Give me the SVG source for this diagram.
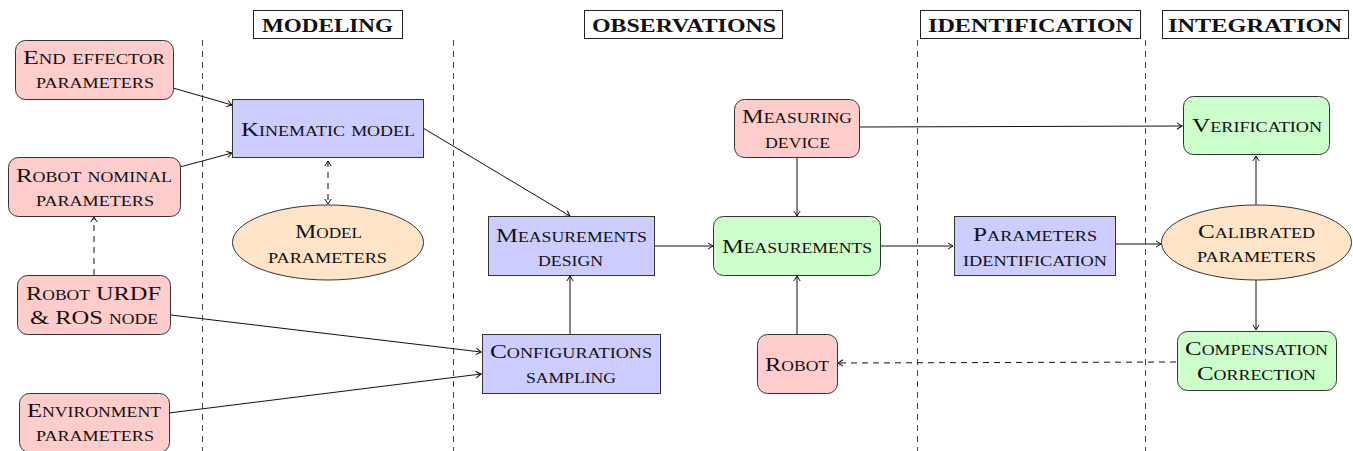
<svg xmlns="http://www.w3.org/2000/svg" width="1353" height="451" viewBox="0 0 1353 451">
<style>
.bg{fill:#ffffff}
.sep{stroke:#444;stroke-width:1;stroke-dasharray:6,5;fill:none}
.hdr rect{fill:#fff;stroke:#222;stroke-width:1}
.hdr text{font-family:"Liberation Serif",serif;font-weight:bold;font-size:19.5px;fill:#111;text-anchor:middle}
.pink{fill:#ffcccc;stroke:#333;stroke-width:1}
.blue{fill:#ccccff;stroke:#333;stroke-width:1}
.green{fill:#ccffcc;stroke:#333;stroke-width:1}
.orange{fill:#ffe4c8;stroke:#333;stroke-width:1}
.lbl{font-family:"Liberation Serif",serif;font-variant:small-caps;font-size:19.5px;fill:#111;text-anchor:middle}
.c{stroke:#111;stroke-width:1;fill:none;marker-end:url(#ah)}
.d{stroke:#111;stroke-width:1;fill:none;stroke-dasharray:6,5;marker-end:url(#ah)}
.dd{marker-start:url(#ahs)}
</style>
<defs>
<marker id="ah" viewBox="-6 -4 7 8" refX="0" refY="0" markerWidth="7" markerHeight="8" markerUnits="userSpaceOnUse" orient="auto">
<path d="M-5,-3.2 Q-1.5,-0.8 0,0 Q-1.5,0.8 -5,3.2" fill="none" stroke="#111" stroke-width="1"/>
</marker>
<marker id="ahs" viewBox="-6 -4 7 8" refX="0" refY="0" markerWidth="7" markerHeight="8" markerUnits="userSpaceOnUse" orient="auto-start-reverse">
<path d="M-5,-3.2 Q-1.5,-0.8 0,0 Q-1.5,0.8 -5,3.2" fill="none" stroke="#111" stroke-width="1"/>
</marker>
</defs>
<rect class="bg" x="0" y="0" width="1353" height="451"/>

<g id="separators">
<line class="sep" x1="202.5" y1="40" x2="202.5" y2="451"/>
<line class="sep" x1="453.5" y1="40" x2="453.5" y2="451"/>
<line class="sep" x1="917.5" y1="40" x2="917.5" y2="451"/>
<line class="sep" x1="1145.5" y1="40" x2="1145.5" y2="451"/>
</g>

<g id="headers" class="hdr">
<g id="h-modeling"><rect x="253.5" y="10.5" width="149" height="28"/><text x="327.5" y="32" textLength="131" lengthAdjust="spacingAndGlyphs">MODELING</text></g>
<g id="h-observations"><rect x="584.5" y="10.5" width="198" height="28"/><text x="684" y="32" textLength="184" lengthAdjust="spacingAndGlyphs">OBSERVATIONS</text></g>
<g id="h-identification"><rect x="920.5" y="10.5" width="220" height="28"/><text x="1030.5" y="32" textLength="205" lengthAdjust="spacingAndGlyphs">IDENTIFICATION</text></g>
<g id="h-integration"><rect x="1162.5" y="10.5" width="186" height="28"/><text x="1255" y="32" textLength="174" lengthAdjust="spacingAndGlyphs">INTEGRATION</text></g>
</g>

<g id="connectors">
<line class="c" x1="173" y1="88" x2="232" y2="105"/>
<line class="c" x1="180" y1="167" x2="232" y2="153"/>
<line class="d dd" x1="328" y1="161" x2="328" y2="204"/>
<line class="d" x1="94" y1="275" x2="94" y2="217"/>
<line class="c" x1="171" y1="315" x2="481" y2="352"/>
<line class="c" x1="169" y1="413" x2="481" y2="374"/>
<line class="c" x1="423" y1="128" x2="570" y2="216"/>
<line class="c" x1="570" y1="334" x2="570" y2="276"/>
<line class="c" x1="654" y1="246" x2="713" y2="246"/>
<line class="c" x1="797" y1="157" x2="797" y2="216"/>
<line class="c" x1="797" y1="334" x2="797" y2="276"/>
<line class="c" x1="859" y1="127" x2="1182" y2="126"/>
<line class="c" x1="880" y1="246" x2="953" y2="246"/>
<line class="c" x1="1116" y1="244" x2="1161" y2="244"/>
<line class="c" x1="1256" y1="205" x2="1256" y2="156"/>
<line class="c" x1="1256" y1="280" x2="1256" y2="330"/>
<line class="d" x1="1176" y1="362" x2="838" y2="363"/>
</g>

<g id="n-endeffector"><rect class="pink" x="15.5" y="40.5" width="158" height="59" rx="10"/>
<text class="lbl" x="94" y="64" textLength="142" lengthAdjust="spacingAndGlyphs">End effector</text>
<text class="lbl" x="95" y="88" textLength="118" lengthAdjust="spacingAndGlyphs">parameters</text></g>

<g id="n-robotnominal"><rect class="pink" x="8.5" y="157.5" width="172" height="59" rx="10"/>
<text class="lbl" x="94" y="182" textLength="156" lengthAdjust="spacingAndGlyphs">Robot nominal</text>
<text class="lbl" x="95" y="206" textLength="118" lengthAdjust="spacingAndGlyphs">parameters</text></g>

<g id="n-urdf"><rect class="pink" x="17.5" y="275.5" width="153" height="59" rx="10"/>
<text class="lbl" x="93.5" y="300" textLength="135" lengthAdjust="spacingAndGlyphs">Robot URDF</text>
<text class="lbl" x="94" y="324" textLength="128" lengthAdjust="spacingAndGlyphs">&amp; ROS node</text></g>

<g id="n-environment"><rect class="pink" x="19.5" y="393.5" width="150" height="59" rx="10"/>
<text class="lbl" x="94" y="417" textLength="134" lengthAdjust="spacingAndGlyphs">Environment</text>
<text class="lbl" x="95" y="441" textLength="118" lengthAdjust="spacingAndGlyphs">parameters</text></g>

<g id="n-kinematic"><rect class="blue" x="232.5" y="99.5" width="191" height="58"/>
<text class="lbl" x="328" y="136" textLength="174" lengthAdjust="spacingAndGlyphs">Kinematic model</text></g>

<g id="n-modelparams"><ellipse class="orange" cx="328" cy="242.5" rx="95.5" ry="37.5"/>
<text class="lbl" x="328.5" y="238" textLength="67" lengthAdjust="spacingAndGlyphs">Model</text>
<text class="lbl" x="327.5" y="263" textLength="119" lengthAdjust="spacingAndGlyphs">parameters</text></g>

<g id="n-measdesign"><rect class="blue" x="488.5" y="216.5" width="166" height="59"/>
<text class="lbl" x="571.5" y="242" textLength="151" lengthAdjust="spacingAndGlyphs">Measurements</text>
<text class="lbl" x="570.5" y="266" textLength="65" lengthAdjust="spacingAndGlyphs">design</text></g>

<g id="n-configs"><rect class="blue" x="482.5" y="334.5" width="178" height="59"/>
<text class="lbl" x="571" y="358" textLength="162" lengthAdjust="spacingAndGlyphs">Configurations</text>
<text class="lbl" x="571" y="383" textLength="90" lengthAdjust="spacingAndGlyphs">sampling</text></g>

<g id="n-measdevice"><rect class="pink" x="734.5" y="99.5" width="125" height="58" rx="10"/>
<text class="lbl" x="797" y="123" textLength="110" lengthAdjust="spacingAndGlyphs">Measuring</text>
<text class="lbl" x="797.5" y="148" textLength="65" lengthAdjust="spacingAndGlyphs">device</text></g>

<g id="n-measurements"><rect class="green" x="713.5" y="216.5" width="167" height="59" rx="10"/>
<text class="lbl" x="797" y="253" textLength="150" lengthAdjust="spacingAndGlyphs">Measurements</text></g>

<g id="n-robot"><rect class="pink" x="757.5" y="334.5" width="80" height="59" rx="10"/>
<text class="lbl" x="797" y="371" textLength="64" lengthAdjust="spacingAndGlyphs">Robot</text></g>

<g id="n-paramid"><rect class="blue" x="954.5" y="216.5" width="161" height="59"/>
<text class="lbl" x="1035" y="241" textLength="124" lengthAdjust="spacingAndGlyphs">Parameters</text>
<text class="lbl" x="1035" y="266" textLength="144" lengthAdjust="spacingAndGlyphs">identification</text></g>

<g id="n-verification"><rect class="green" x="1183.5" y="96.5" width="146" height="58" rx="10"/>
<text class="lbl" x="1257" y="132" textLength="130" lengthAdjust="spacingAndGlyphs">Verification</text></g>

<g id="n-calibrated"><ellipse class="orange" cx="1256.5" cy="242.5" rx="95" ry="37.5"/>
<text class="lbl" x="1256.5" y="238" textLength="117" lengthAdjust="spacingAndGlyphs">Calibrated</text>
<text class="lbl" x="1256.5" y="262" textLength="119" lengthAdjust="spacingAndGlyphs">parameters</text></g>

<g id="n-compensation"><rect class="green" x="1177.5" y="331.5" width="159" height="59" rx="10"/>
<text class="lbl" x="1256.5" y="355" textLength="143" lengthAdjust="spacingAndGlyphs">Compensation</text>
<text class="lbl" x="1256.5" y="380" textLength="119" lengthAdjust="spacingAndGlyphs">Correction</text></g>
</svg>
